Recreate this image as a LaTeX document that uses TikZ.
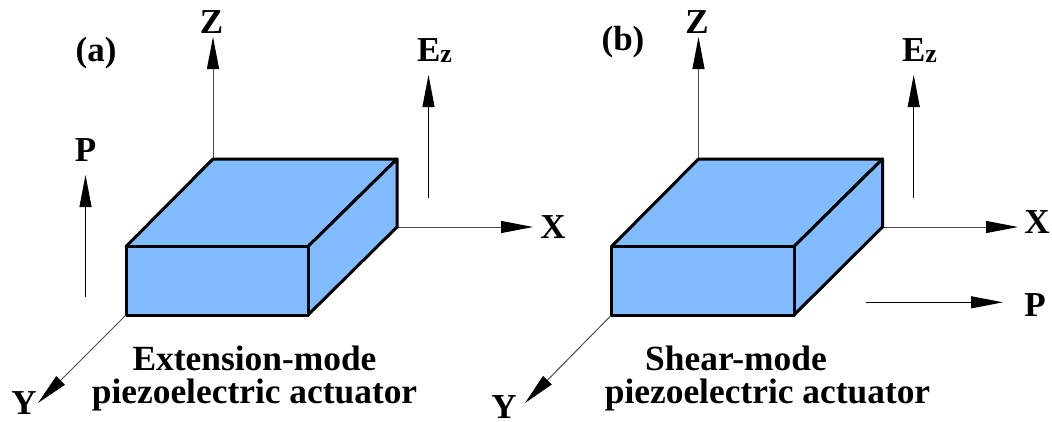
\documentclass[tikz,border=0pt]{standalone}
\usepackage{fontspec}
\setmainfont{Liberation Serif}
\usetikzlibrary{arrows.meta}
\definecolor{boxblue}{HTML}{80BCFF}
\tikzset{
  face/.style={draw=black,fill=boxblue,line width=3pt,line join=round},
  axisline/.style={draw=black!70,line width=1pt,-{Triangle[length=32pt,width=12pt,color=black]}},
  axisthin/.style={draw=black,line width=1pt,-{Triangle[length=32pt,width=12pt,color=black]}},
  big/.style={font=\fontsize{35}{35}\selectfont\bfseries,inner sep=0pt,text=black},
  captext/.style={font=\fontsize{35.4}{35.4}\selectfont\bfseries,inner sep=0pt,align=center,text=black},
}
\begin{document}
\begin{tikzpicture}[x=1pt,y=-1pt]
\useasboundingbox (0,0) rectangle (1052,421);
% panel (a)
\coordinate (aFL) at (126,315); \coordinate (aFR) at (308,315);
\coordinate (aTL) at (126,246.5); \coordinate (aTR) at (308,246.5);
\coordinate (aBL) at (213,159); \coordinate (aBR) at (397,159);
\coordinate (aBB) at (397,227);
\node[big] (aZ) at (211.5,22) {Z};
\node[big] (aX) at (553,227) {X};
\node[big] (aY) at (24,403) {Y};
\node[big] (aLab) at (96,53) {(a)};
\node[big] (aE) at (434.5,51) {E\raisebox{-1pt}{\fontsize{26}{26}\selectfont z}};
\node[big] (aP) at (85.5,150) {P};
\coordinate (aEs) at (428.5,198); \coordinate (aEe) at (428.5,75);
\coordinate (aPs) at (85.5,297); \coordinate (aPe) at (85.5,175);
\coordinate (aZe) at (213,37); \coordinate (aXe) at (533,227); \coordinate (aYe) at (38,403);
\draw[axisline] (aBL) -- (aZe);
\draw[axisline] (aBB) -- (aXe);
\draw[axisline] (aFL) -- (aYe);
\draw[axisthin] (aEs) -- (aEe);
\draw[axisthin] (aPs) -- (aPe);
\path[face] (aTL) -- (aBL) -- (aBR) -- (aTR) -- cycle;
\path[face] (aTR) -- (aBR) -- (aBB) -- (aFR) -- cycle;
\path[face] (aTL) rectangle (aFR);
\node[captext] (aCap1) at (254.5,358) {Extension-mode};
\node[captext] (aCap2) at (254.5,395) {piezoelectric actuator};
% panel (b)
\coordinate (bFL) at (611.5,315); \coordinate (bFR) at (794,315);
\coordinate (bTL) at (611.5,246.5); \coordinate (bTR) at (794,246.5);
\coordinate (bBL) at (698.5,159); \coordinate (bBR) at (882.5,159);
\coordinate (bBB) at (882.5,227);
\node[big] (bZ) at (697,22) {Z};
\node[big] (bX) at (1037,222) {X};
\node[big] (bY) at (504,407) {Y};
\node[big] (bLab) at (623,42) {(b)};
\node[big] (bE) at (919.5,51) {E\raisebox{-1pt}{\fontsize{26}{26}\selectfont z}};
\node[big] (bP) at (1035,305) {P};
\coordinate (bEs) at (913.7,198); \coordinate (bEe) at (913.7,75);
\coordinate (bPs) at (866,302.3); \coordinate (bPe) at (1003,302.3);
\coordinate (bZe) at (698.5,37); \coordinate (bXe) at (1018,227); \coordinate (bYe) at (525,403);
\draw[axisline] (bBL) -- (bZe);
\draw[axisline] (bBB) -- (bXe);
\draw[axisline] (bFL) -- (bYe);
\draw[axisthin] (bEs) -- (bEe);
\draw[axisthin] (bPs) -- (bPe);
\path[face] (bTL) -- (bBL) -- (bBR) -- (bTR) -- cycle;
\path[face] (bTR) -- (bBR) -- (bBB) -- (bFR) -- cycle;
\path[face] (bTL) rectangle (bFR);
\node[captext] (bCap1) at (736,358) {Shear-mode};
\node[captext] (bCap2) at (767.5,395) {piezoelectric actuator};
\end{tikzpicture}
\end{document}
